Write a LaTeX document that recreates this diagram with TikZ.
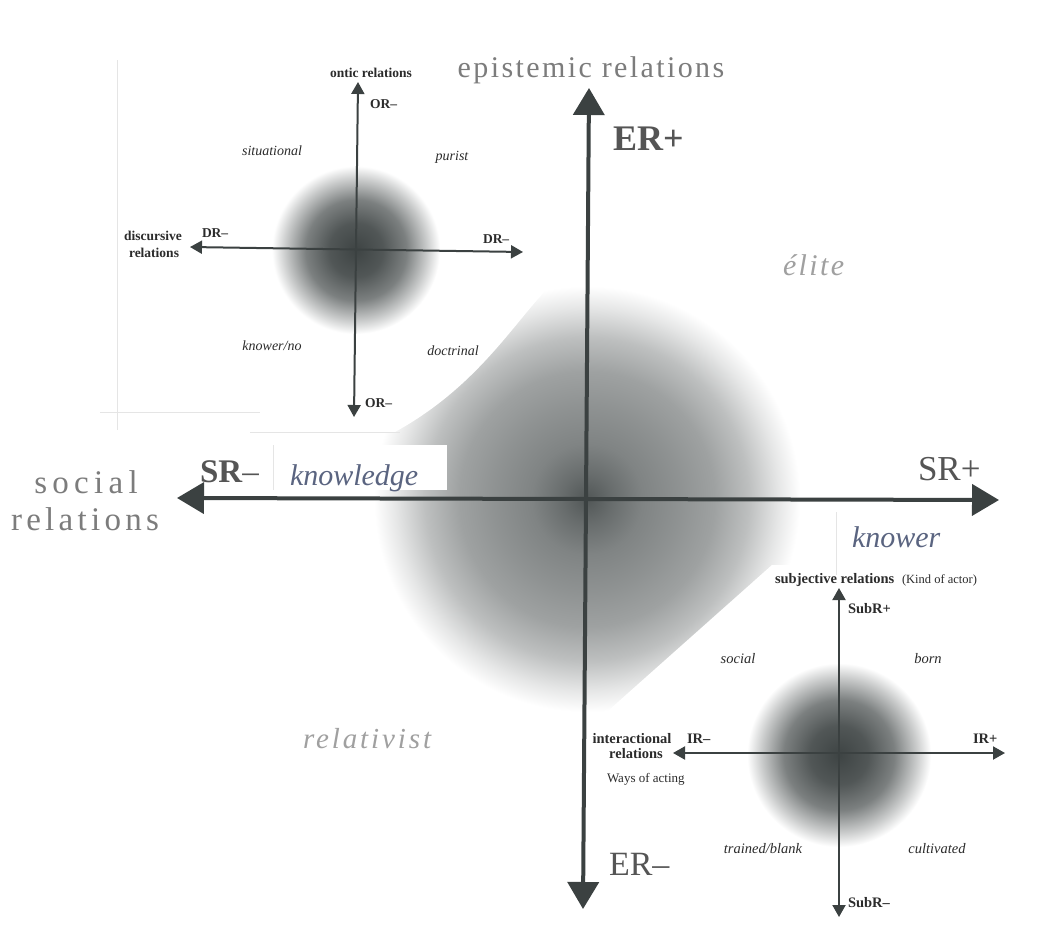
\documentclass[tikz,border=0pt]{standalone}
\usepackage{fontspec}
\setmainfont{Liberation Serif}
\usetikzlibrary{arrows.meta}
\definecolor{axiscol}{HTML}{3B4141}
\definecolor{inktext}{HTML}{2B2B2B}
\definecolor{headgrey}{HTML}{7C7C7C}
\definecolor{labgrey}{HTML}{555555}
\definecolor{slate}{HTML}{5A6480}
\definecolor{lightgrey}{HTML}{A0A0A0}
\definecolor{blobc}{HTML}{3E4444}
\pgfdeclareradialshading{bigblob}{\pgfpoint{0bp}{0bp}}{color(0bp)=(blobc!90!white); color(3bp)=(blobc!78!white); color(6.5bp)=(blobc!66!white); color(11bp)=(blobc!58!white); color(15bp)=(blobc!50!white); color(19bp)=(blobc!34!white); color(22.5bp)=(blobc!13!white); color(25bp)=(white); color(50bp)=(white)}
\pgfdeclareradialshading{smallblob}{\pgfpoint{0bp}{0bp}}{color(0bp)=(blobc); color(8bp)=(blobc!90!white); color(15bp)=(blobc!68!white); color(21bp)=(blobc!28!white); color(25bp)=(white); color(50bp)=(white)}
\newcommand\fsz[1]{\fontsize{#1}{#1}\selectfont}
\newcommand\spaced[1]{\addfontfeatures{LetterSpace=#1}}
\tikzset{
  bigaxis/.style={draw=axiscol, line width=4pt, {Triangle[length=27pt,width=31pt]}-{Triangle[length=27pt,width=31pt]}},
  smallaxis/.style={draw=axiscol, line width=2pt, {Triangle[length=12pt,width=13pt]}-{Triangle[length=12pt,width=13pt]}},
  txt/.style={inner sep=0pt, outer sep=0pt},
  insetbold/.style={txt, text=inktext, font=\fsz{13.5}\bfseries},
  insetital/.style={txt, text=inktext, font=\fsz{14}\itshape},
  brbold/.style={txt, text=inktext, font=\fsz{14.5}\bfseries},
  britalic/.style={txt, text=inktext, font=\fsz{14.5}\itshape},
  faint/.style={draw=gray!20, line width=0.8pt},
}
\begin{document}
\begin{tikzpicture}[x=1pt,y=-1pt]
\useasboundingbox (0,0) rectangle (1055,937);
\fill[white] (0,0) rectangle (1055,937);
% big shaded disc
\shade[shading=bigblob] (587,499) circle (213pt);
% white areas of the pasted insets
\fill[white] (110,50) -- (560,50) -- (560,280) -- (552,284) .. controls (515,320) and (480,385) .. (395,432) -- (110,432) -- cycle;
\fill[white] (772,565) -- (1055,565) -- (1055,937) -- (600,937) -- (600,718) -- cycle;
\fill[white] (273,445) rectangle (447,490);
% faint edges
\draw[faint] (117,60) -- (117,430);
\draw[faint] (100,412) -- (260,412);
\draw[faint] (250,432) -- (400,432);
\draw[faint] (273,445) -- (273,490);
\draw[faint] (836,512) -- (836,575);
% inset discs
\shade[shading=smallblob] (356,250) circle (84pt);
\shade[shading=smallblob] (839,755) circle (92pt);
% coordinates
\coordinate (ERtop) at (589,88);
\coordinate (ERbot) at (583,909);
\coordinate (SRleft) at (177,498);
\coordinate (SRright) at (999,500);
\coordinate (ORtop) at (358,82);
\coordinate (ORbot) at (354,417);
\coordinate (DRleft) at (190,247);
\coordinate (DRright) at (523,252);
\coordinate (SubTop) at (839,588);
\coordinate (SubBot) at (839,917);
\coordinate (IRleft) at (673,753);
\coordinate (IRright) at (1005,753);
% axes
\draw[bigaxis] (ERbot) -- (ERtop);
\draw[bigaxis] (SRleft) -- (SRright);
\draw[smallaxis] (ORbot) -- (ORtop);
\draw[smallaxis] (DRleft) -- (DRright);
\draw[smallaxis] (SubBot) -- (SubTop);
\draw[smallaxis] (IRleft) -- (IRright);
% main labels
\node[txt, anchor=base, text=headgrey, font=\fsz{30}] (eptitle) at (591,77) {\spaced{8}epistemic relations};
\node[txt, anchor=base west, text=labgrey, font=\fsz{36}\bfseries] (erplus) at (613,150) {ER+};
\node[txt, anchor=base west, text=labgrey, font=\fsz{34}] (erminus) at (609,875) {ER–};
\node[txt, anchor=base west, text=labgrey, font=\fsz{33}] (srminus) at (200,482) {\textbf{SR}–};
\node[txt, anchor=base west, text=labgrey, font=\fsz{35}] (srplus) at (918,480) {SR+};
\node[txt, anchor=base west, text=slate, font=\fsz{30}\itshape] (knowledge) at (290,485) {knowledge};
\node[txt, anchor=base west, text=slate, font=\fsz{30}\itshape] (knower) at (852,547) {knower};
\node[txt, anchor=base, text=headgrey, font=\fsz{33}] (social) at (86,493) {\spaced{16}social};
\node[txt, anchor=base, text=headgrey, font=\fsz{33}] (relsoc) at (85,530) {\spaced{13}relations};
\node[txt, anchor=base west, text=lightgrey, font=\fsz{30}\itshape] (elite) at (783,275) {\spaced{8}élite};
\node[txt, anchor=base west, text=lightgrey, font=\fsz{29}\itshape] (relativist) at (303,748) {\spaced{10}relativist};
% top-left inset labels
\node[insetbold, anchor=base] (ontic) at (371,77) {ontic relations};
\node[insetbold, anchor=base west] (ORp) at (370,108) {OR–};
\node[insetbold, anchor=base west] (ORm) at (365,407) {OR–};
\node[insetbold, anchor=base west] (DRl) at (202,237) {DR–};
\node[insetbold, anchor=base west] (DRr) at (483,243) {DR–};
\node[insetbold, anchor=base] (discursive) at (153,240) {discursive};
\node[insetbold, anchor=base] (reldisc) at (154,257) {relations};
\node[insetital, anchor=base] (situational) at (272,155) {situational};
\node[insetital, anchor=base] (purist) at (452,160) {purist};
\node[insetital, anchor=base] (knowerno) at (272,350) {knower/no};
\node[insetital, anchor=base] (doctrinal) at (453,355) {doctrinal};
% bottom-right inset labels
\node[brbold, anchor=base west] (subjective) at (775,583) {subjective relations};
\node[txt, anchor=base west, text=inktext, font=\fsz{12.5}] (kind) at (902,583) {(Kind of actor)};
\node[brbold, anchor=base west] (SubRp) at (848,613) {SubR+};
\node[brbold, anchor=base west] (SubRm) at (848,907) {SubR–};
\node[britalic, anchor=base] (socialsmall) at (738,663) {social};
\node[britalic, anchor=base] (born) at (928,663) {born};
\node[britalic, anchor=base] (trained) at (763,853) {trained/blank};
\node[britalic, anchor=base] (cultivated) at (937,853) {cultivated};
\node[brbold, anchor=base] (interactional) at (632,743) {interactional};
\node[brbold, anchor=base] (relint) at (636,758) {relations};
\node[brbold, anchor=base west] (IRm) at (687,743) {IR–};
\node[brbold, anchor=base west] (IRp) at (973,743) {IR+};
\node[txt, anchor=base west, text=inktext, font=\fsz{13}] (ways) at (607,782) {Ways of acting};
\end{tikzpicture}
\end{document}
